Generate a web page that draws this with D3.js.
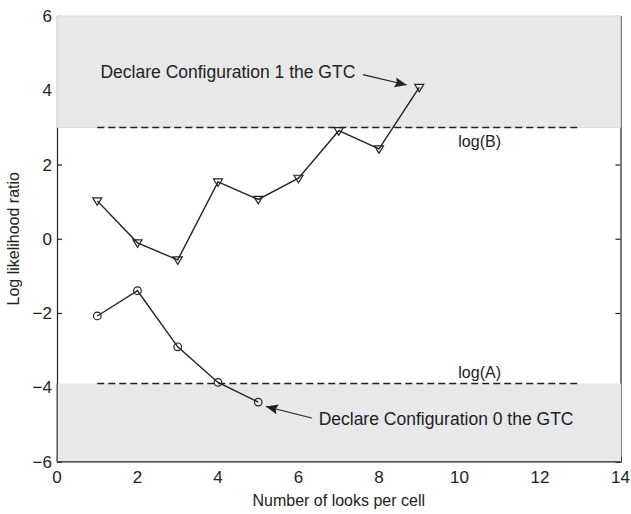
<!DOCTYPE html>
<html lang="en">
<head>
  <meta charset="utf-8" />
  <style>
    body { margin: 0; background: #fff; }
    text { font-family: "Liberation Sans", Arial, sans-serif; fill: #222; }
  </style>
</head>
<body>
<svg width="631" height="514"></svg>
<script src="https://d3js.org/d3.v7.min.js"></script>
<script>
var svg = d3.select("svg"),
    width = 631,
    height = 514;

// data
var looks1 = [1, 2, 3, 4, 5, 6, 7, 8, 9],
    llr1 = [1.02, -0.11, -0.57, 1.53, 1.06, 1.63, 2.91, 2.42, 4.08];
var looks0 = [1, 2, 3, 4, 5],
    llr0 = [-2.08, -1.4, -2.91, -3.87, -4.4];
var logA = -3.9,
    logB = 3;
var xTicks = [0, 2, 4, 6, 8, 10, 12, 14],
    yTicks = [-6, -4, -2, 0, 2, 4, 6];

var x = d3.scaleLinear().domain([0, 14]).range([57, 620.5]),
    y = d3.scaleLinear().domain([-6, 6]).range([461.5, 16]);

var ink = "#222";

svg.append("defs").append("marker")
  .attr("id", "head")
  .attr("viewBox", "0 0 10 10")
  .attr("refX", 10).attr("refY", 5)
  .attr("markerWidth", 12).attr("markerHeight", 12)
  .attr("markerUnits", "userSpaceOnUse")
  .attr("orient", "auto")
  .append("path")
  .attr("d", "M0,0.8L10,5L0,9.2L1.5,5Z")
  .attr("fill", ink);

// box with inward ticks
var axisG = svg.append("g");
axisG.append("g").attr("transform", "translate(" + x(0) + ",0)")
  .call(d3.axisRight(y).tickValues(yTicks).tickSize(5).tickFormat(""));
axisG.append("g").attr("transform", "translate(" + x(14) + ",0)")
  .call(d3.axisLeft(y).tickValues(yTicks).tickSize(5).tickFormat(""));
axisG.append("g").attr("transform", "translate(0," + y(-6) + ")")
  .call(d3.axisTop(x).tickValues(xTicks).tickSize(5).tickFormat(""));
axisG.selectAll("path, line").attr("stroke", ink).attr("stroke-width", 1.2);

// shaded decision regions
svg.append("rect")
  .attr("x", x(0)).attr("y", y(6))
  .attr("width", x(14) - x(0)).attr("height", y(logB) - y(6))
  .attr("fill", "#e7e8ea").attr("stroke", "#d6d7d9").attr("stroke-width", 0.8);
svg.append("rect")
  .attr("x", x(0) + 0.6).attr("y", y(logA))
  .attr("width", x(14) - x(0)).attr("height", y(-6) - y(logA))
  .attr("fill", "#e7e8ea");

svg.append("line")
  .attr("x1", x(0)).attr("x2", x(0)).attr("y1", y(logA)).attr("y2", y(-6))
  .attr("stroke", "#555").attr("stroke-width", 1);
svg.append("line")
  .attr("x1", x(0)).attr("x2", x(14)).attr("y1", y(-6)).attr("y2", y(-6))
  .attr("stroke", "#555").attr("stroke-width", 1.2);

// tick labels
svg.selectAll(".ylab").data(yTicks).enter().append("text")
  .attr("x", x(0) - 5).attr("y", function(d) { return y(d); })
  .attr("dy", "0.36em").attr("text-anchor", "end")
  .style("font-size", "17px")
  .text(function(d) { return d < 0 ? "\u2212" + (-d) : d; });
svg.selectAll(".xlab").data(xTicks).enter().append("text")
  .attr("x", function(d) { return x(d); }).attr("y", y(-6) + 15)
  .attr("dy", "0.36em").attr("text-anchor", "middle")
  .style("font-size", "17px")
  .text(function(d) { return d; });

svg.append("text")
  .attr("x", (x(0) + x(14)) / 2).attr("y", 506)
  .attr("text-anchor", "middle").style("font-size", "16px")
  .text("Number of looks per cell");
svg.append("text")
  .attr("transform", "translate(19," + y(0) + ") rotate(-90)")
  .attr("text-anchor", "middle").style("font-size", "16px")
  .text("Log likelihood ratio");

// thresholds
[logB, logA].forEach(function(v) {
  svg.append("line")
    .attr("x1", x(1)).attr("x2", x(13))
    .attr("y1", y(v)).attr("y2", y(v))
    .attr("stroke", ink).attr("stroke-width", 1.5)
    .attr("stroke-dasharray", "7,4");
});
svg.append("text").attr("x", x(10.5)).attr("y", y(logB) + 14)
  .attr("dy", "0.36em").attr("text-anchor", "middle").style("font-size", "16px")
  .text("log(B)");
svg.append("text").attr("x", x(10.5)).attr("y", y(logA) - 11)
  .attr("dy", "0.36em").attr("text-anchor", "middle").style("font-size", "16px")
  .text("log(A)");

// series
var line = d3.line()
  .x(function(d) { return x(d[0]); })
  .y(function(d) { return y(d[1]); });
var pts1 = d3.zip(looks1, llr1),
    pts0 = d3.zip(looks0, llr0);

svg.append("path").datum(pts1).attr("d", line)
  .attr("fill", "none").attr("stroke", ink).attr("stroke-width", 1.4);
svg.append("path").datum(pts0).attr("d", line)
  .attr("fill", "none").attr("stroke", ink).attr("stroke-width", 1.4);

svg.selectAll(".tri").data(pts1).enter().append("path")
  .attr("transform", function(d) { return "translate(" + x(d[0]) + "," + y(d[1]) + ")"; })
  .attr("d", "M-4.5,-3L4.5,-3L0,4.5Z")
  .attr("fill", "none").attr("stroke", ink).attr("stroke-width", 1.2);
svg.selectAll(".circ").data(pts0).enter().append("circle")
  .attr("cx", function(d) { return x(d[0]); })
  .attr("cy", function(d) { return y(d[1]); })
  .attr("r", 3.8)
  .attr("fill", "none").attr("stroke", ink).attr("stroke-width", 1.2);

// annotations
svg.append("text").attr("x", x(1.08)).attr("y", y(4.49))
  .attr("dy", "0.36em").style("font-size", "17.5px")
  .text("Declare Configuration 1 the GTC");
svg.append("line")
  .attr("x1", x(7.6)).attr("y1", y(4.42)).attr("x2", x(8.69)).attr("y2", y(4.14))
  .attr("stroke", ink).attr("stroke-width", 1.1).attr("marker-end", "url(#head)");
svg.append("text").attr("x", x(6.5)).attr("y", y(-4.85))
  .attr("dy", "0.36em").style("font-size", "17.5px")
  .text("Declare Configuration 0 the GTC");
svg.append("line")
  .attr("x1", x(6.33)).attr("y1", y(-4.83)).attr("x2", x(5.19)).attr("y2", y(-4.52))
  .attr("stroke", ink).attr("stroke-width", 1.1).attr("marker-end", "url(#head)");
</script>
</body>
</html>
